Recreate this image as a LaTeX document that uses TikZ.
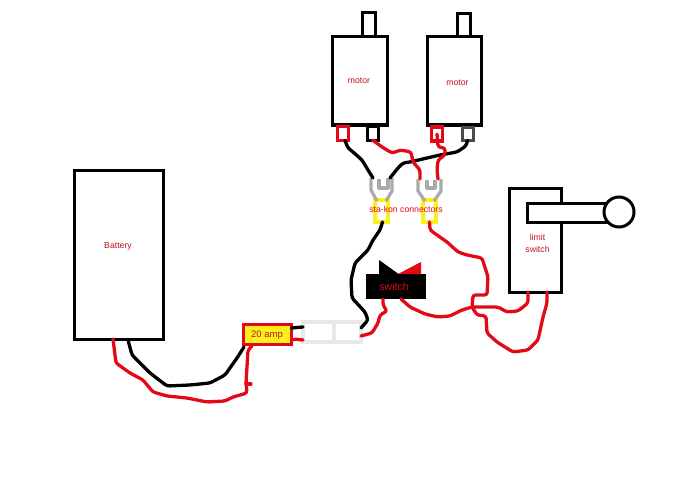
\documentclass[tikz,border=0pt]{standalone}
\usepackage{fontspec}
\setmainfont{Liberation Sans}
\definecolor{wirered}{RGB}{226,10,22}
\definecolor{labelred}{RGB}{190,20,30}
\definecolor{palegrey}{RGB}{232,232,232}
\definecolor{forkgrey}{RGB}{170,170,170}
\definecolor{stayellow}{RGB}{250,240,30}
\tikzset{
  x=1pt,y=-1pt,
  part/.style={draw=black,line width=3pt,fill=white,rectangle,inner sep=0pt,outer sep=0pt},
  sized/.style 2 args={minimum width=#1 pt,minimum height=#2 pt},
  lab/.style={text=labelred,font=\fontsize{8.7}{10.5}\selectfont,align=center,inner sep=0pt},
  wireb/.style={draw=black,line width=3.3pt,rounded corners=2.5pt,line join=round,line cap=round},
  wirer/.style={draw=wirered,line width=3.3pt,rounded corners=2.5pt,line join=round,line cap=round},
  forkline/.style={draw=forkgrey,line width=3.2pt,line join=round},
  redterm/.style={draw=wirered,line width=3.4pt,fill=white,rectangle,inner sep=0pt,outer sep=0pt},
  yellowterm/.style={draw=stayellow,line width=3.4pt,fill=white,rectangle,inner sep=0pt,outer sep=0pt},
  spliceb/.style={draw=palegrey,line width=3.2pt,fill=white,rectangle,inner sep=0pt,outer sep=0pt},
}
\begin{document}
\begin{tikzpicture}
\useasboundingbox (0,0) rectangle (690,500);
% motors
\node[part,sized={13}{24}] (shaftA) at (368.5,25) {};
\node[part,sized={13}{23}] (shaftB) at (463.5,25.5) {};
\node[part,sized={55}{88}] (motorA) at (359.5,81) {};
\node[part,sized={54}{88}] (motorB) at (454,81) {};
\node[lab] (motorAt) at (359,81) {motor};
\node[lab] (motorBt) at (457.5,82.5) {motor};
% motor terminals
\node[redterm,sized={11}{14}] (tAr) at (343,133.5) {};
\node[part,sized={11}{14}] (tAb) at (372.5,133) {};
\node[redterm,sized={11}{14}] (tBr) at (437,134) {};
\node[part,draw=black!70,sized={11}{13}] (tBb) at (467.5,134) {};
% sta-kon yellow terminals
\node[yellowterm,sized={13}{22}] (yL) at (381.5,211) {};
\node[yellowterm,sized={13}{22}] (yR) at (429.5,211) {};
% forks
\coordinate (fLa) at (373,178);
\coordinate (fLb) at (390,178);
\coordinate (fRa) at (420,179);
\coordinate (fRb) at (438,179);
\draw[forkline] (371,178) -- (371,190) -- (377,201);
\draw[forkline] (392,178) -- (392,191) -- (386,201);
\draw[forkline] (379,179) -- (379,188) -- (388,188) -- (388,178);
\draw[forkline] (418,179) -- (418,191) -- (425,201);
\draw[forkline] (441,179) -- (441,191) -- (434,201);
\draw[forkline] (427,180) -- (427,188) -- (435,188) -- (435,180);
\node[lab,text=wirered] (stakon) at (406,209) {sta-kon connectors};
% motor wires
\draw[wireb] (tAr.south) ++(2,0) -- (348,148) -- (353,152) -- (362,160) -- (368,170) -- (fLa);
\draw[wireb] (fLb) -- (398,168) -- (403,163) -- (410,162) -- (427,158) -- (440,155) -- (457,152) -- (466,146) -- (tBb.south);
\draw[wirer] (tAb.south) -- (382,147) -- (392,153) -- (401,150) -- (411,152) -- (413,162) -- (420,170) -- (fRa);
\draw[wirer] (tBr.center) -- (438,147) -- (445,148) -- (445,155) -- (438,160) -- (437,170) -- (fRb);
% limit switch
\node[part,sized={52}{104}] (limit) at (535,240) {};
\node[part,sized={80}{19}] (arm) at (567,212.5) {};
\node[circle,draw=black,line width=3pt,fill=white,minimum size=30pt,inner sep=0pt] (knob) at (619,212) {};
\node[lab] (limitt) at (537.5,243.5) {limit\\[1pt]switch};
% switch
\node[fill=black,rectangle,inner sep=0pt,outer sep=0pt,sized={60}{25}] (sw) at (396,286.5) {};
\fill[black] (379,260) -- (379,275) -- (400,275) -- cycle;
\fill[wirered] (398,274) -- (421,262) -- (421,274) -- cycle;
\node[lab,text=wirered,font=\fontsize{10.5}{12}\selectfont] (swt) at (394,287) {switch};
% battery
\node[part,sized={89}{169}] (battery) at (118.5,254.5) {};
\node[lab] (battt) at (118,246) {Battery};
% fuse and splice
\node[draw=wirered,line width=3.4pt,fill=stayellow,rectangle,inner sep=0pt,outer sep=0pt,sized={48}{20}] (fuse) at (267.5,334.5) {};
\node[lab,font=\fontsize{9.5}{11}\selectfont] (fuset) at (267,335) {20 amp};
\node[spliceb,sized={31}{20}] (spA) at (318.5,332) {};
\node[spliceb,sized={27}{20}] (spB) at (347.5,332) {};
% wires
\draw[wireb] (yL.south) ++(1,0) -- (380,230) -- (373,240) -- (368,250) -- (360,258) -- (355,263) -- (351,280) -- (352,298) -- (365,312) -- (368,320) -- (361,328);
\draw[wirer] (yR.south) -- (430,230) -- (437,235) -- (447,242) -- (458,252) -- (467,255) -- (482,258) -- (488,277) -- (487,295) -- (473,295) -- (472,307) -- (477,315) -- (486,316) -- (487,333) -- (497,342) -- (513,352) -- (528,350) -- (538,340) -- (543,317) -- (547,303) -- (547,292);
\draw[wirer] (401,299) -- (410,307) -- (425,314) -- (438,317) -- (450,316) -- (462,310) -- (472,307) -- (498,307) -- (507,312) -- (518,311) -- (528,303) -- (528,292);
\draw[wirer] (383,299) -- (383,305) -- (387,311) -- (380,315) -- (378,323) -- (372,333) -- (361,336);
\draw[wireb] (fuse.east |- 0,328) -- (spA.west |- 0,327);
\draw[wirer] (fuse.east |- 0,340) -- (295,339) -- (spA.west |- 0,340);
\draw[wirer] (113,339) -- (116,363) -- (130,373) -- (143,380) -- (153,392) -- (167,396) -- (187,398) -- (207,402) -- (225,401) -- (233,397) -- (247,393) -- (246,383) -- (248,350) -- (252,346);
\draw[wirer] (246,384) -- (251,384);
\draw[wireb] (128,340) -- (132,355) -- (150,373) -- (167,386) -- (190,385) -- (210,383) -- (225,375) -- (237,358) -- (244,347);
\end{tikzpicture}
\end{document}
